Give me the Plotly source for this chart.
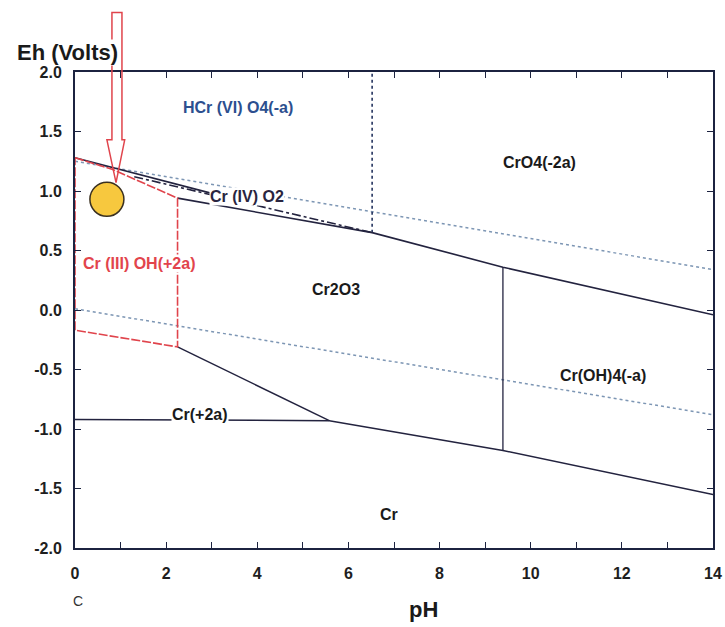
import plotly.graph_objects as go

# ---------------- data (pH, Eh in volts) ----------------
ph_tick_vals = list(range(0, 15))
ph_tick_text = ["0", "", "2", "", "4", "", "6", "", "8", "", "10", "", "12", "", "14"]
eh_tick_vals = [-2.0, -1.5, -1.0, -0.5, 0.0, 0.5, 1.0, 1.5, 2.0]
eh_tick_text = ["-2.0", "-1.5", "-1.0", "-0.5", "0.0", "0.5", "1.0", "1.5", "2.0"]

water_upper_ph = [0, 14]
water_upper_eh = [1.25, 0.34]
water_lower_ph = [0, 14]
water_lower_eh = [0.01, -0.88]

hcro4_boundary_ph = [0, 3.0]
hcro4_boundary_eh = [1.28, 0.98]

cro2_boundary_ph = [1.3, 6.52]
cro2_boundary_eh = [1.12, 0.65]

cr2o3_top_ph = [2.25, 6.52, 9.39, 14]
cr2o3_top_eh = [0.94, 0.65, 0.36, -0.04]

cro4_vertical_ph = [6.52, 6.52]
cro4_vertical_eh = [0.65, 2.0]

croh4_vertical_ph = [9.39, 9.39]
croh4_vertical_eh = [0.36, -1.18]

cr2_boundary_ph = [2.25, 5.58]
cr2_boundary_eh = [-0.31, -0.93]

cr_metal_ph = [0, 5.58, 9.39, 14]
cr_metal_eh = [-0.92, -0.93, -1.18, -1.55]

cr3_box_ph = [0, 0.83, 2.25, 2.25, 0, 0]
cr3_box_eh = [1.28, 1.18, 0.94, -0.31, -0.17, 1.28]

sample_ph = [0.70]
sample_eh = [0.93]

arrow_ph = [0.81, 1.03, 1.03, 1.09, 0.90, 0.70, 0.81, 0.81]
arrow_eh = [2.50, 2.50, 1.43, 1.43, 1.07, 1.43, 1.43, 2.50]

labels = [
    ("HCr (VI) O4(-a)", 3.57, 1.70, "#2c4f8f", False),
    ("CrO4(-2a)", 10.2, 1.24, "#1a1a1a", False),
    ("Cr (IV) O2", 3.77, 0.955, "#2a2540", True),
    ("Cr (III) OH(+2a)", 1.40, 0.39, "#e2444c", True),
    ("Cr2O3", 5.73, 0.17, "#1a1a1a", False),
    ("Cr(OH)4(-a)", 11.58, -0.55, "#1a1a1a", False),
    ("Cr(+2a)", 2.74, -0.88, "#1a1a1a", True),
    ("Cr", 6.9, -1.72, "#1a1a1a", False),
]

X_RANGE = [0, 14]
Y_RANGE = [-2, 2]

FONT = "Arial, Liberation Sans, sans-serif"
AXIS_COLOR = "#1c2340"
DARK = "#23233f"
RED = "#e0444c"
WATER = "#7d96b4"

fig = go.Figure()


def add_line(x, y, color, width=1.5, dash="solid"):
    fig.add_trace(go.Scatter(x=x, y=y, mode="lines",
                             line=dict(color=color, width=width, dash=dash),
                             hoverinfo="skip", showlegend=False))


add_line(water_upper_ph, water_upper_eh, WATER, 1.5, "dot")
add_line(water_lower_ph, water_lower_eh, WATER, 1.5, "dot")
add_line(cro4_vertical_ph, cro4_vertical_eh, "#25345f", 1.6, "dot")
add_line(hcro4_boundary_ph, hcro4_boundary_eh, DARK, 1.6)
add_line(cro2_boundary_ph, cro2_boundary_eh, DARK, 1.6, "dashdot")
add_line(cr2o3_top_ph, cr2o3_top_eh, DARK, 1.6)
add_line(croh4_vertical_ph, croh4_vertical_eh, DARK, 1.3)
add_line(cr2_boundary_ph, cr2_boundary_eh, DARK, 1.5)
add_line(cr_metal_ph, cr_metal_eh, DARK, 1.5)
add_line(cr3_box_ph, cr3_box_eh, RED, 1.6, "9px,2px")

fig.add_trace(go.Scatter(x=sample_ph, y=sample_eh, mode="markers",
                         marker=dict(size=34, color="#f7c83e",
                                     line=dict(color="#3a3020", width=1.5)),
                         cliponaxis=False, hoverinfo="skip", showlegend=False))

for text, x, y, color, bg in labels:
    fig.add_annotation(x=x, y=y, xref="x", yref="y", text=text, showarrow=False,
                       font=dict(family=FONT, size=16, color=color, weight="bold"),
                       bgcolor="white" if bg else "rgba(0,0,0,0)", borderpad=0)


# hollow red arrow, converted from data units to paper units so it can leave the plot area
def to_paper_x(v):
    return (v - X_RANGE[0]) / (X_RANGE[1] - X_RANGE[0])


def to_paper_y(v):
    return (v - Y_RANGE[0]) / (Y_RANGE[1] - Y_RANGE[0])


path = "M " + " L ".join(f"{to_paper_x(a):.4f},{to_paper_y(b):.4f}"
                          for a, b in zip(arrow_ph, arrow_eh)) + " Z"
fig.add_shape(type="path", xref="paper", yref="paper", path=path,
              line=dict(color=RED, width=1.5), fillcolor="rgba(0,0,0,0)", layer="above")

fig.add_annotation(x=-0.0125, y=1.04, xref="paper", yref="paper", text="Eh (Volts)",
                   showarrow=False, xanchor="center", yanchor="middle",
                   font=dict(family=FONT, size=22, color="#1a1a1a", weight="bold"),
                   bgcolor="white", borderpad=0)
fig.add_annotation(x=0.547, y=-0.13, xref="paper", yref="paper", text="pH",
                   showarrow=False, xanchor="center", yanchor="middle",
                   font=dict(family=FONT, size=22, color="#1a1a1a", weight="bold"))
fig.add_annotation(x=0.004, y=-0.112, xref="paper", yref="paper", text="C",
                   showarrow=False, xanchor="center", yanchor="middle",
                   font=dict(family=FONT, size=14, color="#333333"))

axis_common = dict(showgrid=False, zeroline=False, showline=True, linecolor=AXIS_COLOR,
                   linewidth=2, mirror="ticks", ticks="inside", ticklen=6,
                   tickcolor=AXIS_COLOR, tickwidth=1,
                   tickfont=dict(family=FONT, size=16, color="#1e1e1e", weight="bold"))

fig.update_xaxes(range=X_RANGE, tickmode="array", tickvals=ph_tick_vals,
                 ticktext=ph_tick_text, ticklabelstandoff=10, **axis_common)
fig.update_yaxes(range=Y_RANGE, tickmode="array", tickvals=eh_tick_vals,
                 ticktext=eh_tick_text, ticklabelstandoff=8, **axis_common)

fig.update_layout(width=725, height=627,
                  margin=dict(l=75, r=12, t=72, b=79, autoexpand=False),
                  paper_bgcolor="white", plot_bgcolor="white",
                  font=dict(family=FONT), hovermode=False)

# remove the default 8px page margin so the figure fills the window exactly
fig.write_html("out.html",
               config={"displayModeBar": False, "staticPlot": True},
               post_script="document.body.style.margin='0';"
                           "document.body.style.overflow='hidden';")
